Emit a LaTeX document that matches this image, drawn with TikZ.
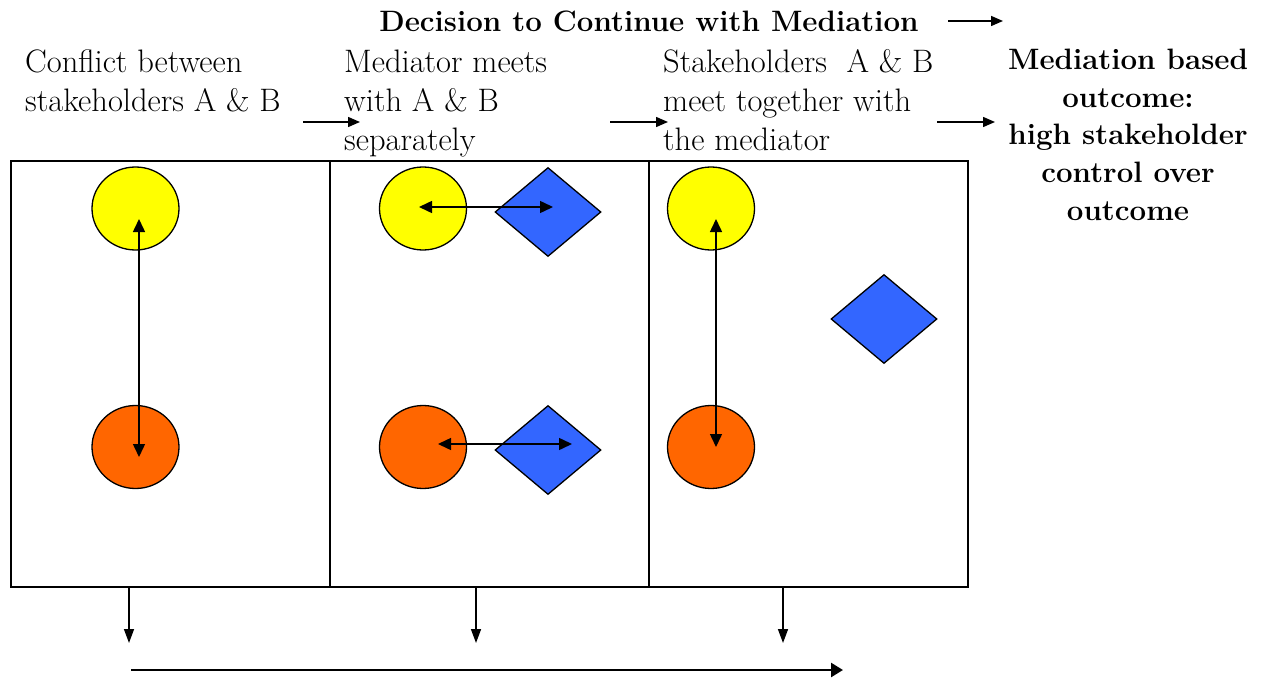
\documentclass[tikz,border=0pt]{standalone}
\usepackage{fontspec}
\usetikzlibrary{arrows.meta,shapes.geometric}
\definecolor{yellowc}{HTML}{FFFF00}
\definecolor{orangec}{HTML}{FF6600}
\definecolor{bluec}{HTML}{3366FF}
\tikzset{
  panel/.style={draw, line width=2pt, minimum width=319, minimum height=426, inner sep=0, outer sep=0, anchor=north west},
  ball/.style={ellipse, draw, line width=1.3pt, minimum width=87, minimum height=83, inner sep=0},
  med/.style={diamond, draw, fill=bluec, line width=1.3pt, minimum width=106, minimum height=89, inner sep=0},
  txt/.style={font=\fontsize{32.5}{39}\selectfont, inner sep=0, anchor=base west},
  btxt/.style={font=\fontsize{29.5}{37}\selectfont\bfseries, inner sep=0, anchor=base},
  dbl/.style={line width=1.5pt, {Triangle[length=13pt,width=12pt]}-{Triangle[length=13pt,width=12pt]}},
  flow/.style={line width=1.5pt, -{Triangle[length=12pt,width=10pt]}},
  down/.style={line width=1.5pt, -{Triangle[length=14pt,width=10pt]}},
  time/.style={line width=2.5pt, -{Triangle[length=12pt,width=14pt]}}
}
\begin{document}
\begin{tikzpicture}[x=1pt,y=-1pt]
\useasboundingbox (0,0) rectangle (1263,679);
% panels
\node[panel] (p1) at (11,161) {};
\node[panel] (p2) at (330,161) {};
\node[panel] (p3) at (649,161) {};
% shapes
\node[ball, fill=yellowc] (a1) at (135.5,208.5) {};
\node[ball, fill=orangec] (b1) at (135.5,447) {};
\node[ball, fill=yellowc] (a2) at (423,208.5) {};
\node[ball, fill=orangec] (b2) at (423,447) {};
\node[med] (m2a) at (548,212) {};
\node[med] (m2b) at (548,450) {};
\node[ball, fill=yellowc] (a3) at (711,208.5) {};
\node[ball, fill=orangec] (b3) at (711,447) {};
\node[med] (m3) at (884,319) {};
% arrows inside panels
\draw[dbl] ([shift={(3.5,10.5)}]a1.center) -- ([shift={(3.5,10)}]b1.center);
\draw[dbl] ([shift={(-4,-1.5)}]a2.center) -- ([shift={(5,-5)}]m2a.center);
\draw[dbl] ([shift={(15,-3)}]b2.center) -- ([shift={(24,-6)}]m2b.center);
\draw[dbl] ([shift={(5,10.5)}]a3.center) -- ([shift={(5,0)}]b3.center);
% texts
\node[btxt] (dec) at (649,32) {Decision to Continue with Mediation};
\node[txt] (t1a) at (25,73) {Conflict between};
\node[txt] (t1b) at (25,112) {stakeholders A \& B};
\node[txt] (t2a) at (344,73) {Mediator meets};
\node[txt] (t2b) at (344,112) {with A \& B};
\node[txt] (t2c) at (344,151) {separately};
\node[txt] (t3a) at (663,73) {Stakeholders\ \ A \& B};
\node[txt] (t3b) at (663,112) {meet together with};
\node[txt] (t3c) at (663,151) {the mediator};
\node[btxt] (r1) at (1128,70) {Mediation based};
\node[btxt] (r2) at (1128,107.5) {outcome:};
\node[btxt] (r3) at (1128,145) {high stakeholder};
\node[btxt] (r4) at (1128,182.5) {control over};
\node[btxt] (r5) at (1128,220) {outcome};
% flow arrows
\coordinate (d1) at (948,21); \coordinate (d2) at (1003,21);
\coordinate (f1s) at (303,122); \coordinate (f1e) at (360,122);
\coordinate (f2s) at (610,122); \coordinate (f2e) at (668,122);
\coordinate (f3s) at (937,122); \coordinate (f3e) at (995,122);
\draw[flow] (d1) -- (d2);
\draw[flow] (f1s) -- (f1e);
\draw[flow] (f2s) -- (f2e);
\draw[flow] (f3s) -- (f3e);
% bottom arrows
\coordinate (s1) at (129,587); \coordinate (e1) at (129,643);
\coordinate (s2) at (476,587); \coordinate (e2) at (476,643);
\coordinate (s3) at (783,587); \coordinate (e3) at (783,643);
\coordinate (ts) at (131,670); \coordinate (te) at (843,670);
\draw[down] (s1) -- (e1);
\draw[down] (s2) -- (e2);
\draw[down] (s3) -- (e3);
\draw[time] (ts) -- (te);
\end{tikzpicture}
\end{document}
